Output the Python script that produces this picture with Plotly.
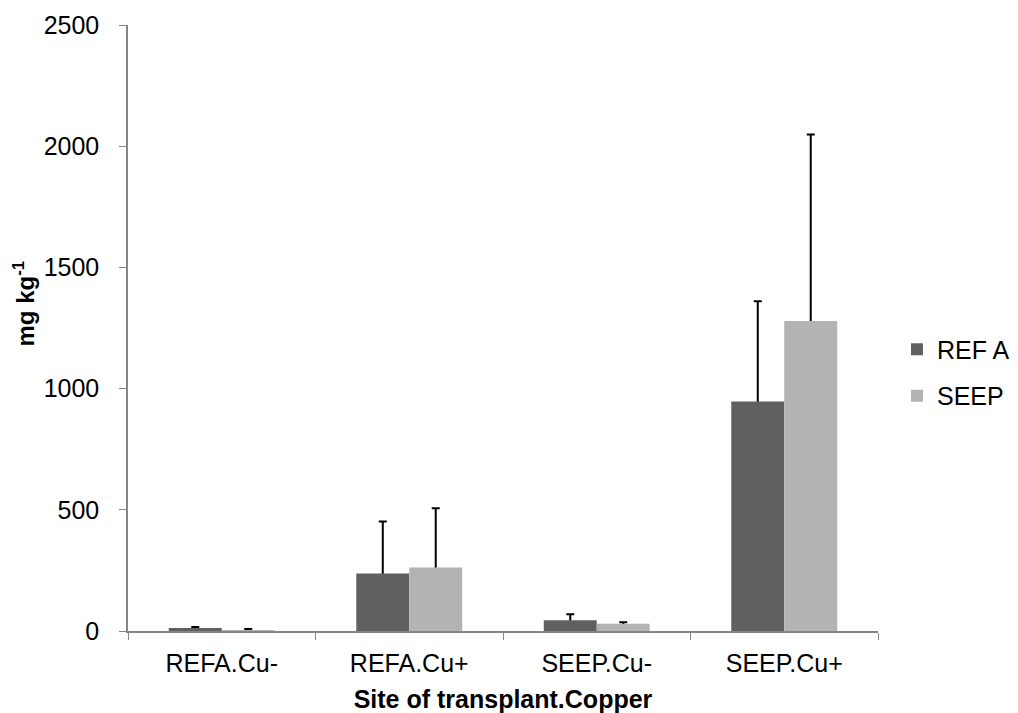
import plotly.graph_objects as go

categories = ["REFA.Cu-", "REFA.Cu+", "SEEP.Cu-", "SEEP.Cu+"]
ref_a = [12, 237, 44, 947]
ref_a_err = [4, 215, 25, 413]
seep = [2, 262, 30, 1279]
seep_err = [6, 244, 6, 769]
y_ticks = [0, 500, 1000, 1500, 2000, 2500]

font_family = "Liberation Sans, Arial, sans-serif"
TICK_SIZE = 25
TITLE_SIZE = 25
YTITLE_SIZE = 24

fig = go.Figure()


def add_series(name, values, errors, color, group):
    # hidden carrier of the error bars (drawn underneath the real bars so the
    # lower half of the whisker is covered, as in the original chart)
    fig.add_trace(go.Bar(
        x=categories, y=values, name=name, offsetgroup=group,
        marker=dict(color="rgba(0,0,0,0)", line=dict(width=0)),
        showlegend=False, hoverinfo="skip",
        error_y=dict(type="data", array=errors, symmetric=False,
                     arrayminus=[v + 5000 for v in values],
                     color="black", thickness=2, width=4),
    ))
    fig.add_trace(go.Bar(
        x=categories, y=values, name=name, offsetgroup=group,
        legendgroup=group,
        marker=dict(color=color, line=dict(width=0)),
    ))


add_series("REF A", ref_a, ref_a_err, "#606060", "a")
add_series("SEEP", seep, seep_err, "#b3b3b3", "b")

fig.update_layout(
    width=1018, height=713,
    margin=dict(l=128, r=140, t=25, b=82, autoexpand=False),
    paper_bgcolor="white", plot_bgcolor="white",
    barmode="group", bargap=0.435, bargroupgap=0,
    font=dict(family=font_family, size=TICK_SIZE, color="black"),
    legend=dict(x=1.0253, y=0.4266, xanchor="left", yanchor="middle",
                font=dict(size=TICK_SIZE), tracegroupgap=11, itemwidth=30),
    showlegend=True,
    annotations=[dict(
        text="<b>mg kg<sup>-1</sup></b>", textangle=-90,
        xref="paper", yref="paper", x=-0.139, y=0.54,
        xanchor="center", yanchor="middle", showarrow=False,
        font=dict(size=YTITLE_SIZE, family=font_family, color="black"),
    )],
)
fig.update_xaxes(
    automargin=False,
    showline=True, linecolor="#868686", linewidth=1.5,
    ticks="outside", tickson="boundaries", ticklen=7, tickcolor="#868686",
    tickfont=dict(size=TICK_SIZE), ticklabelstandoff=9,
    title=dict(text="<b>Site of transplant.Copper</b>", font=dict(size=TITLE_SIZE), standoff=16),
)
fig.update_yaxes(
    automargin=False,
    range=[0, 2500], tickvals=y_ticks, showgrid=False, zeroline=False,
    showline=True, linecolor="#868686", linewidth=1.5,
    ticks="outside", ticklen=7, tickcolor="#868686",
    tickfont=dict(size=TICK_SIZE), ticklabelstandoff=15,
)

fig.write_html(
    "out.html",
    config={"displayModeBar": False},
    post_script="document.body.style.margin='0';document.body.style.overflow='hidden';",
)
